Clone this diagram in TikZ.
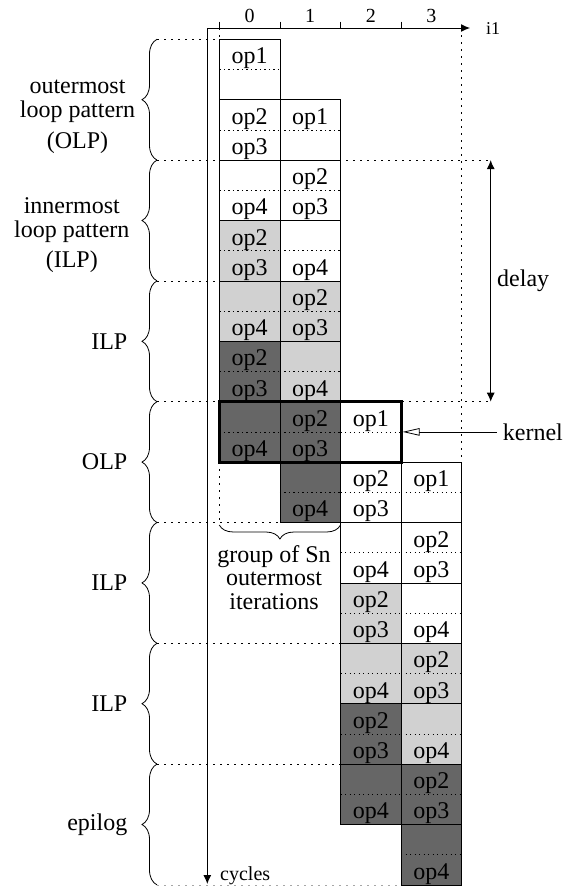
\documentclass[tikz,border=0pt]{standalone}
\usepackage{fontspec}
\setmainfont{Liberation Serif}
\usetikzlibrary{arrows.meta, positioning, decorations.pathreplacing}

\definecolor{lightop}{gray}{0.82}
\definecolor{darkop}{gray}{0.40}

\begin{document}
\begin{tikzpicture}[x=1pt, y=-1pt,
        op/.style={font=\fontsize{24}{24}\selectfont, inner sep=0pt, anchor=base},
        lbl/.style={font=\fontsize{24}{24}\selectfont, align=center, inner sep=0pt},
        small/.style={font=\fontsize{20}{20}\selectfont, inner sep=0pt},
        cellbox/.style={draw, line width=0.8pt},
        split/.style={line width=0.8pt, dash pattern=on 1.2pt off 3.3pt},
        guide/.style={line width=0.8pt, dash pattern=on 1.5pt off 5.5pt},
        brace/.style={decorate, decoration={brace, amplitude=15pt}, line width=0.8pt},
        arrow/.style={>={Latex[length=9pt, width=8pt]}, line width=1pt},
        kernelbox/.style={draw, line width=3pt, inner sep=0pt, minimum width=181.8pt, minimum height=60.4pt}
    ]
    \useasboundingbox (0,0) rectangle (569,886);

    % phase borders
    \draw[guide] (157,39.3) -- (219.3,39.3);
    \draw[guide] (157,160.1) -- (490.7,160.1);
    \draw[guide] (157,280.9) -- (219.3,280.9);
    \draw[guide] (157,401.7) -- (490.7,401.7);
    \draw[guide] (157,522.5) -- (279.9,522.5);
    \draw[guide] (157,643.3) -- (340.5,643.3);
    \draw[guide] (157,764.1) -- (340.5,764.1);
    \draw[guide, gray!70] (157,884.9) -- (401.1,884.9);
    \draw[guide] (219.3,28) -- (219.3,39.3);
    \draw[guide] (219.3,462.1) -- (219.3,522.5);
    \draw[guide] (461.7,28) -- (461.7,462.1);

    % one column per outermost iteration
    \foreach \col/\start in {0/0, 1/2, 2/12, 3/14} {
        \foreach \pr/\fc/\opa/\opb in {0/white/op1/{}, 1/white/op2/op3, 2/white/{}/op4,
                3/lightop/op2/op3, 4/lightop/{}/op4, 5/darkop/op2/op3, 6/darkop/{}/op4} {
            \pgfmathsetmacro\xl{219.3+\col*60.6}
            \pgfmathsetmacro\yt{39.3+(\start+2*\pr)*30.2}
            \filldraw[cellbox, fill=\fc] (\xl,\yt) rectangle ++(60.6,60.4);
            \draw[split] (\xl,\yt+30.2) -- ++(60.6,0);
            \node[op] (op\col\pr a) at (\xl+30.3,\yt+24.5) {\opa};
            \node[op] (op\col\pr b) at (\xl+30.3,\yt+54.7) {\opb};
        }
    }

    \node[kernelbox] (kernel) at (310.2,431.9) {};
    \node[lbl, anchor=west, inner sep=6pt] (kernellbl) at (496.7,431.9) {kernel};
    \draw[line width=0.8pt, -{Triangle[open, length=17pt, width=7.5pt]}] (kernellbl.west) -- (kernel.east);

    % axes
    \coordinate (origin) at (207.3,28);
    \coordinate (iend) at (470,28);
    \coordinate (cend) at (207.3,884);
    \draw[arrow, ->] (origin) -- (iend);
    \draw[arrow, ->] (origin) -- (cend);
    \node[small, anchor=west, font=\fontsize{18}{18}\selectfont] (ilabel) at (486,28.5) {i1};
    \node[small, anchor=base west] (cycles) at (220,880) {cycles};
    \foreach \col in {0,...,3} {
        \draw[line width=0.8pt] (219.3+\col*60.6,21.7) -- (219.3+\col*60.6,28);
        \node[small, anchor=base] (colno\col) at (249.6+\col*60.6,22.7) {\col};
    }

    % delay between two kernels
    \coordinate (delaytop) at (490.7,160.1);
    \coordinate (delaybot) at (490.7,401.7);
    \draw[arrow, <->] (delaytop) -- (delaybot) node[lbl, midway, anchor=west, inner sep=6pt] (delay) {delay};

    % loop patterns
    \foreach \r in {0,4,...,24}
        \draw[brace] (157,{39.3+(\r+4)*30.2}) -- (157,{39.3+\r*30.2});
    \node[lbl] (olpa) at (77.5,116.7) {outermost\\loop pattern\\[7pt](OLP)};
    \node[lbl] (ilpa) at (71.8,235.1) {innermost\\loop pattern\\[6pt](ILP)};
    \node[lbl, anchor=east] (ilpb) at (127.5,341.3) {ILP};
    \node[lbl, anchor=east] (olpb) at (127.5,462.1) {OLP};
    \node[lbl, anchor=east] (ilpc) at (127.5,582.9) {ILP};
    \node[lbl, anchor=east] (ilpd) at (127.5,703.7) {ILP};
    \node[lbl, anchor=east] (epilog) at (127.5,824.5) {epilog};

    % group of iterations
    \draw[brace, decoration={amplitude=14pt}] (340.5,525) -- (219.3,525);
    \node[lbl, anchor=north, font=\fontsize{24}{23.5}\selectfont] (group) at (274,545) {group of Sn\\outermost\\iterations};
\end{tikzpicture}
\end{document}
